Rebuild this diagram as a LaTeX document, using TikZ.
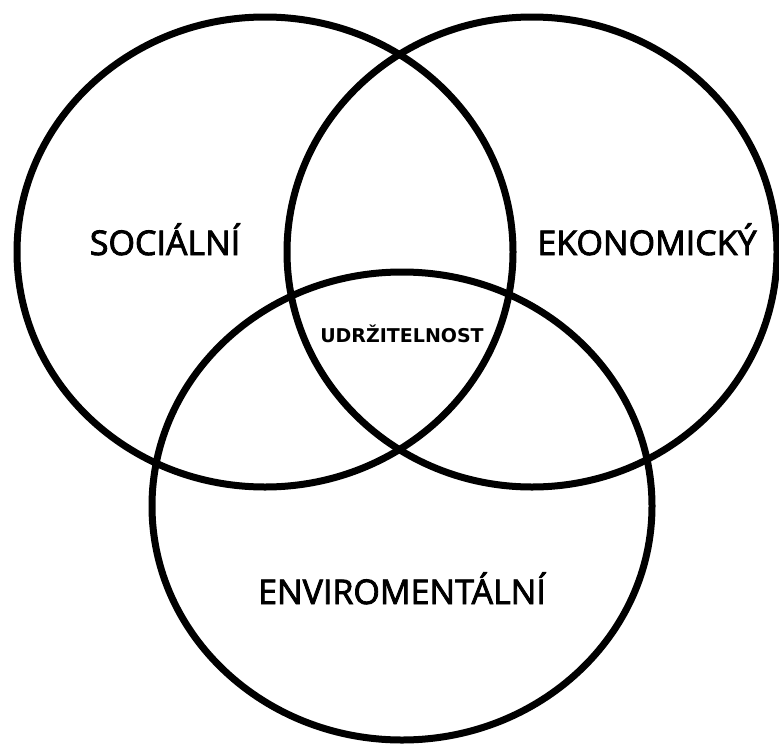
\documentclass[tikz,border=0pt]{standalone}
\usepackage{fontspec}
\setmainfont{Open Sans}
\newfontfamily\pillarfont[FakeBold=2.5]{Open Sans}
\newfontfamily\corefont{DejaVu Sans}
\begin{document}
\begin{tikzpicture}[x=1pt,y=-1pt,
  ring/.style={line width=7pt,draw=black},
  label/.style={anchor=base,inner sep=0pt,font=\pillarfont\fontsize{34}{34}\selectfont,text=black},
  core/.style={anchor=base,inner sep=0pt,font=\corefont\bfseries\fontsize{19}{19}\selectfont,text=black}]
  \useasboundingbox[fill=white] (0,0) rectangle (779,744);
  % the three overlapping pillars
  \draw[ring] (265,252) ellipse [x radius=248, y radius=235];
  \draw[ring] (532,252) ellipse [x radius=245, y radius=235];
  \draw[ring] (402,506) ellipse [x radius=250, y radius=234];
  % labels
  \node[label] (soc) at (165,255) {SOCIÁLNÍ};
  \node[label] (eko) at (647,255) {EKONOMICKÝ};
  \node[label] (env) at (402,604) {ENVIROMENTÁLNÍ};
  \node[core] (udr) at (402,342) {UDRŽITELNOST};
\end{tikzpicture}
\end{document}
